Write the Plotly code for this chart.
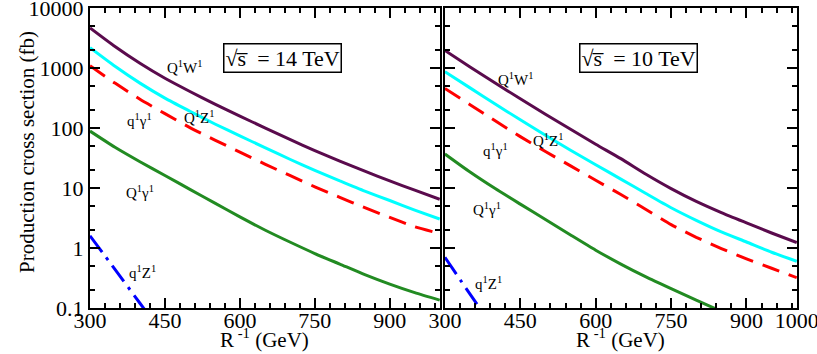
import math
import plotly.graph_objects as go

# R^-1 in GeV
mass = [300, 350, 400, 450, 500, 550, 600, 650, 700, 750, 800, 850, 900, 950, 1000]
mass_q1z1 = [300, 350, 400, 450]
mass_green10 = [300, 350, 400, 450, 500, 550, 600, 650, 700, 750, 800, 850]

# sqrt(s) = 14 TeV, cross sections in fb
QW_14 = [4677, 2291, 1202, 676, 407, 251, 158, 101, 64.6, 42.2, 28.2, 19.1, 13.2, 9.2, 6.5]
QZ_14 = [2188, 1072, 562, 316, 191, 117, 74, 47.3, 30.2, 19.7, 13.2, 8.9, 6.2, 4.3, 3.05]
qg_14 = [1096, 562, 302, 174, 102, 63, 39.8, 25.1, 16.2, 10.5, 7.0, 4.7, 3.24, 2.26, 1.75]
Qg_14 = [89, 47.9, 27.5, 16.2, 9.5, 5.6, 3.3, 2.0, 1.26, 0.81, 0.54, 0.36, 0.25, 0.18, 0.135]
qZ_14 = [1.6, 0.44, 0.12, 0.033]

# sqrt(s) = 10 TeV
QW_10 = [1972, 1047, 562, 309, 170, 95.5, 53.7, 30.9, 17.0, 9.8, 6.0, 3.9, 2.63, 1.78, 1.23]
QZ_10 = [871, 468, 251, 138, 76, 42.7, 24.5, 14.1, 8.1, 4.7, 2.9, 1.86, 1.26, 0.85, 0.60]
qg_10 = [457, 245, 132, 72, 40.7, 23.4, 13.5, 7.8, 4.4, 2.45, 1.51, 0.98, 0.66, 0.46, 0.32]
Qg_10 = [37, 18.5, 9.8, 5.4, 3.0, 1.65, 0.92, 0.54, 0.33, 0.21, 0.135, 0.088]
qZ_10 = [0.7, 0.17, 0.042, 0.01]

ytick_vals = [0.1, 1, 10, 100, 1000, 10000]
ytick_text = ["0.1", "1", "10", "100", "1000", "10000"]
xtick_left = [300, 450, 600, 750, 900]
xtick_right = [300, 450, 600, 750, 900, 1000]

PURPLE = "#5a0b4d"
CYAN = "#00ffff"
RED = "#ff0000"
GREEN = "#228b22"
BLUE = "#0000ff"
FONT = "Liberation Serif"


def main():
    fig = go.Figure()

    def add(x, y, color, xa, ya, dash="solid"):
        fig.add_trace(go.Scatter(x=x, y=y, mode="lines", xaxis=xa, yaxis=ya,
                                 line=dict(color=color, width=3, dash=dash, shape="spline", smoothing=0.6),
                                 showlegend=False, hoverinfo="skip"))

    # left panel, 14 TeV
    add(mass, QW_14, PURPLE, "x", "y")
    add(mass, QZ_14, CYAN, "x", "y")
    add(mass, qg_14, RED, "x", "y", "18px,10px")
    add(mass, Qg_14, GREEN, "x", "y")
    add(mass_q1z1, qZ_14, BLUE, "x", "y", "20px,7px,3px,7px")

    # right panel, 10 TeV
    add(mass, QW_10, PURPLE, "x2", "y2")
    add(mass, QZ_10, CYAN, "x2", "y2")
    add(mass, qg_10, RED, "x2", "y2", "18px,10px")
    add(mass_green10, Qg_10, GREEN, "x2", "y2")
    add(mass_q1z1, qZ_10, BLUE, "x2", "y2", "20px,7px,3px,7px")

    tickfont = dict(family=FONT, size=22, color="black")
    xcommon = dict(range=[300, 1000.5], showline=True, linecolor="black", linewidth=2, mirror="ticks",
                   ticks="inside", ticklen=10, tickwidth=1.5, tickcolor="black", showgrid=False,
                   zeroline=False, tickfont=tickfont, automargin=False, ticklabelstandoff=-8,
                   ticklabeloverflow="allow",
                   minor=dict(ticks="inside", ticklen=5, tickwidth=1.5, tickcolor="black",
                              tickmode="linear", tick0=300, dtick=30, showgrid=False))
    ycommon = dict(type="log", range=[-1, 4.002], showline=True, linecolor="black", linewidth=2,
                   mirror="ticks", ticks="inside", ticklen=10, tickwidth=1.5, tickcolor="black",
                   showgrid=False, zeroline=False, tickfont=tickfont, tickvals=ytick_vals,
                   ticktext=ytick_text, automargin=False, ticklabeloverflow="allow",
                   minor=dict(ticks="inside", ticklen=5, tickwidth=1.5, tickcolor="black", showgrid=False))

    fig.update_layout(
        width=817, height=354,
        margin=dict(l=90, r=20, t=8, b=46),
        paper_bgcolor="white", plot_bgcolor="white",
        font=dict(family=FONT, color="black"),
        xaxis=dict(domain=[0, 0.495], tickvals=xtick_left, anchor="y", **xcommon),
        xaxis2=dict(domain=[0.502, 1], tickvals=xtick_right, anchor="y2", **xcommon),
        yaxis=dict(domain=[0, 1], anchor="x", ticklabelstandoff=0, **ycommon),
        yaxis2=dict(domain=[0, 1], anchor="x2", showticklabels=False, **ycommon),
    )

    # curve labels
    lab = dict(family=FONT, size=15, color="black")
    labels = [
        ("x", "y", 490, 1040, "Q<sup>1</sup>W<sup>1</sup>"),
        ("x", "y", 400, 136, "q<sup>1</sup>γ<sup>1</sup>"),
        ("x", "y", 520, 152, "Q<sup>1</sup>Z<sup>1</sup>"),
        ("x", "y", 400, 8.6, "Q<sup>1</sup>γ<sup>1</sup>"),
        ("x", "y", 406, 0.4, "q<sup>1</sup>Z<sup>1</sup>"),
        ("x2", "y2", 442, 656, "Q<sup>1</sup>W<sup>1</sup>"),
        ("x2", "y2", 400, 43, "q<sup>1</sup>γ<sup>1</sup>"),
        ("x2", "y2", 506, 63, "Q<sup>1</sup>Z<sup>1</sup>"),
        ("x2", "y2", 384, 4.5, "Q<sup>1</sup>γ<sup>1</sup>"),
        ("x2", "y2", 386, 0.26, "q<sup>1</sup>Z<sup>1</sup>"),
    ]
    for xa, ya, x, y, t in labels:
        fig.add_annotation(x=x, y=math.log10(y), xref=xa, yref=ya, text=t, showarrow=False, font=lab)

    box = dict(family=FONT, size=22, color="black")
    for xa, t in [("x", "14 TeV"), ("x2", "10 TeV")]:
        fig.add_annotation(x=0.72, y=0.885, xref=xa + " domain", yref="paper",
                           text="√s̅  = " + t,
                           showarrow=False, font=box, bordercolor="black", borderwidth=1.5,
                           borderpad=1, bgcolor="white")

    # axis titles
    for xa in ["x", "x2"]:
        fig.add_annotation(x=0.5, y=-0.1, xref=xa + " domain", yref="paper", yanchor="middle",
                           text="R<sup> -1</sup> (GeV)", showarrow=False, font=dict(family=FONT, size=21))
    fig.add_annotation(x=-0.109, y=0.52, xref="paper", yref="paper", textangle=-90,
                       text="Production cross section (fb)", showarrow=False,
                       font=dict(family=FONT, size=21))

    # drop the default 8px body margin so the figure fills the window
    fig.write_html("out.html", config={"displayModeBar": False},
                   post_script="document.body.style.margin='0px';")


if __name__ == "__main__":
    main()
